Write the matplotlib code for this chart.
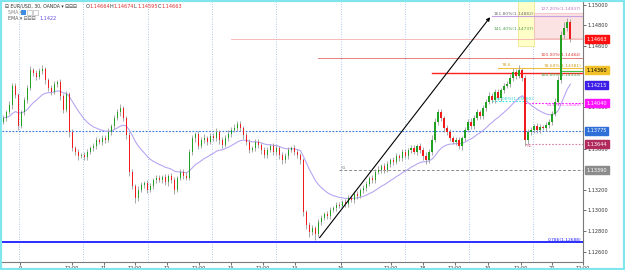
import matplotlib
matplotlib.use("Agg")
import matplotlib.pyplot as plt
import numpy as np
import pandas as pd
from matplotlib.patches import Rectangle

# ---------------- data (prices as points above 1.12000, 1 pt = 0.00001) ----------------
BASE = 1.12
close_pts = [1898,1956,2024,2208,2121,1820,1956,2072,2189,2364,
             2335,2296,2354,2374,2267,2189,2150,2228,2247,2111,
             1975,2131,1762,1606,1567,1528,1538,1519,1567,1606,
             1625,1684,1664,1703,1684,1762,1820,1898,1956,1995,
             1898,1732,1373,1237,1120,1198,1247,1266,1198,1237,
             1295,1315,1295,1324,1276,1334,1295,1198,1315,1373,
             1334,1315,1567,1703,1742,1625,1684,1703,1664,1723,
             1703,1762,1684,1635,1703,1742,1781,1800,1839,1800,
             1732,1664,1587,1606,1664,1635,1587,1538,1587,1625,
             1567,1606,1538,1489,1528,1587,1606,1567,1538,1489,
             984,858,790,829,770,887,926,965,945,1004,
             1023,1052,1043,1081,1062,1120,1101,1159,1140,1198,
             1217,1256,1315,1295,1373,1392,1431,1392,1451,1489,
             1470,1528,1509,1567,1528,1587,1606,1567,1625,1587,
             1528,1489,1567,1684,1859,1956,1898,1800,1762,1703,
             1664,1684,1625,1703,1781,1859,1820,1898,1956,1917,
             1995,2053,2111,2072,2150,2092,2170,2208,2228,2286,
             2344,2306,2364,2286,1684,1762,1781,1820,1781,1810,
             1800,1829,1859,1936,2053,2267,2704,2772,2830,2663]
first_open_pts = 1860
upper_wick = [30,20,40,25,30,20,15,30,25,35, 20,30,25,40,20,15,25,30,20,25,
              15,30,20,25,15,30,20,25,30,20, 25,30,20,25,30,35,20,25,30,40,
              20,15,25,30,20,35,25,20,30,25, 20,30,25,20,30,20,25,30,20,25,
              30,35,30,25,20,30,25,35,20,30, 25,40,20,25,30,35,30,40,30,25,
              20,30,25,20,30,25,20,30,25,20, 25,30,20,25,30,25,20,25,30,20,
              15,20,25,30,20,30,25,20,25,30, 20,25,30,20,25,30,20,25,30,20,
              25,30,20,25,30,35,20,25,30,20, 25,30,20,25,30,20,25,30,20,25,
              30,40,25,50,40,30,25,20,30,25, 20,30,25,20,30,25,35,30,25,20,
              30,25,35,30,25,30,20,25,30,35, 40,30,50,20,25,30,25,20,30,25,
              20,30,25,30,35,40,40,60,40,30]
lower_wick = [25,30,20,35,25,40,20,25,30,20, 30,25,20,25,35,30,25,20,30,40,
              25,20,45,30,25,35,20,30,25,20, 30,25,20,30,25,20,30,25,20,35,
              30,40,35,30,45,25,20,30,25,20, 30,25,20,30,25,35,30,40,20,25,
              30,25,20,30,40,25,20,30,25,20, 30,25,35,30,20,25,30,20,25,30,
              40,30,25,20,30,25,35,30,25,20, 30,25,35,40,30,25,20,30,25,35,
              40,35,45,30,60,30,25,20,30,25, 20,30,25,20,30,25,20,30,25,20,
              30,25,20,30,25,20,30,25,20,30, 25,20,30,25,20,30,25,20,30,25,
              35,40,30,25,20,30,25,35,30,25, 20,30,25,35,30,20,25,30,20,25,
              30,25,20,30,25,20,30,25,20,25, 30,25,20,30,60,40,30,25,30,25,
              20,25,30,25,20,30,30,25,30,30]

tick_pos = [5.5,22.8,33.5,43.8,54.5,65.2,75.8,86.5,97.2,112.5,129.2,139.8,150.5,161.5,172.5,182.8,193.2]
tick_lbl = ["9","12:00","11","12:00","12","12:00","13","12:00","14","16","12:00","18","12:00","19","12:00","20","12:00"]
day_sep = [5.2,26.5,48.2,69.5,90.8,112.5,133.8,155.2,176.5]

y_ticks = [1.150,1.148,1.146,1.140,1.136,1.132,1.130,1.128,1.126]
price_boxes = [(1.14663,"#ff1010","white"),(1.14360,"#f2c22a","black"),(1.14215,"#3c1ee6","white"),
               (1.14040,"#ff10ff","white"),(1.13775,"#2f6fd8","white"),(1.13644,"#b02a5c","white"),
               (1.13390,"#8c8c8c","white")]

ohlc_names = ["O", "H", "L", "C"]
ohlc_vals = ["1.14664", "1.14674", "1.14595", "1.14663"]
ema_value = "1.1422"

arrow_start = (104.8, 1.12712)
arrow_end = (162.8, 1.14898)

# ---------------- derived ----------------
closes = np.array([BASE + c/1e5 for c in close_pts])
opens = np.concatenate([[BASE + first_open_pts/1e5], closes[:-1]])
highs = np.maximum(opens, closes) + np.array(upper_wick)/1e5
lows = np.minimum(opens, closes) - np.array(lower_wick)/1e5
n = len(closes)
ema = pd.Series(closes).ewm(span=20, adjust=False).mean().values

fig = plt.figure(figsize=(6.25, 2.7), dpi=100)
fig.patch.set_facecolor("white")
ax = fig.add_axes([2/625, 8/270, 581/625, 262/270])
XMAX = 193.17
ax.set_xlim(-0.5, XMAX)
ax.set_ylim(1.12498, 1.15044)

for s in ["left", "top"]:
    ax.spines[s].set_visible(False)
for s in ["right", "bottom"]:
    ax.spines[s].set_color("#7a7a7a")
    ax.spines[s].set_linewidth(0.8)

# day separators
for d in day_sep:
    ax.axvline(d, color="#8fb8e8", lw=0.6, ls=(0, (1, 2)), zorder=1)

# overlay shapes
ax.add_patch(Rectangle((171.5, 1.14600), 5.5, 0.00460, facecolor="#ffffc8", edgecolor="#f0e080", lw=0.5, zorder=1))
ax.add_patch(Rectangle((177, 1.14675), XMAX-177, 0.00243, facecolor="#fbe3e3", edgecolor="#f0b8b8", lw=0.5, zorder=1))

def hline(y, x0, x1, color, lw=0.7, ls="-", z=2):
    ax.plot([x0, x1], [y, y], color=color, lw=lw, ls=ls, zorder=z)

hline(1.12688, -0.5, XMAX, "#1a1aff", lw=1.3)
hline(1.13775, -0.5, XMAX, "#2f6fd8", lw=0.8, ls=(0, (1.5, 1.5)))
hline(1.13390, 112, XMAX, "#8c8c8c", lw=0.7, ls=(0, (3, 2)))
hline(1.13644, 174, XMAX, "#d880a8", lw=0.8, ls=(0, (1.5, 1.5)))
hline(1.14040, 174, XMAX, "#ff10ff", lw=0.8, ls=(0, (1.5, 1.5)))
hline(1.14060, 163, 175, "#30e8e8", lw=0.8, ls=(0, (1.5, 1.5)))
hline(1.14484, 105, XMAX, "#e88080", lw=0.7)
hline(1.14381, 165, XMAX, "#f0c040", lw=0.8)
hline(1.14333, 143, XMAX, "#ff2020", lw=1.0)
hline(1.14350, 186, XMAX, "#40c040", lw=0.8)
hline(1.14663, 76, XMAX, "#f4b0b0", lw=0.6)
hline(1.14888, 163, XMAX, "#c8a0e0", lw=0.8)

fs = 3.2
ax.text(163.5, 1.14892, "161.80%(1.14882)", fontsize=fs, color="#707070", va="bottom", zorder=5)
ax.text(163.5, 1.14740, "141.40%(1.14737)", fontsize=fs, color="#50a050", va="bottom", zorder=5)
ax.text(XMAX-0.5, 1.14940, "127.20%(1.14937)", fontsize=fs, color="#c070c0", va="bottom", ha="right", zorder=5)
ax.text(XMAX-0.5, 1.14488, "100.00%(1.14484)", fontsize=fs, color="#e04040", va="bottom", ha="right", zorder=5)
ax.text(XMAX-0.5, 1.14385, "78.60%(1.14381)", fontsize=fs, color="#d0a020", va="bottom", ha="right", zorder=5)
ax.text(XMAX-0.5, 1.14300, "100.00%(1.14333)", fontsize=fs, color="#40a040", va="bottom", ha="right", zorder=5)
ax.text(166, 1.14390, "78.6", fontsize=fs, color="#d0a020", va="bottom", zorder=5)
ax.text(XMAX-0.5, 1.14000, "61.8%(1.14040)", fontsize=fs, color="#ff40ff", va="bottom", ha="right", zorder=5)
ax.text(164, 1.14064, "50.00%(1.14060)", fontsize=fs, color="#30d0d0", va="bottom", zorder=5)
ax.text(174.5, 1.13610, "NL", fontsize=fs, color="#d880a8", va="bottom", zorder=5)
ax.text(112.5, 1.13395, "S1", fontsize=fs, color="#8c8c8c", va="bottom", zorder=5)
ax.text(XMAX-0.5, 1.12695, "0.786(1.12688)", fontsize=fs, color="#1a1aff", va="bottom", ha="right", zorder=5)

# EMA
ax.plot(np.arange(n), ema, color="#b8a6f2", lw=0.8, zorder=3)

# candles
x = np.arange(n)
up = closes >= opens
ax.vlines(x, lows, highs, color="#9a9a9a", lw=0.6, zorder=4)
body_lo = np.minimum(opens, closes)
body_h = np.maximum(np.abs(closes - opens), 0.00003)
ax.bar(x[up], body_h[up], bottom=body_lo[up], width=0.62, color="#22a022", zorder=5, linewidth=0)
ax.bar(x[~up], body_h[~up], bottom=body_lo[~up], width=0.62, color="#ee1c1c", zorder=5, linewidth=0)

# arrow
ax.annotate("", xy=arrow_end, xytext=arrow_start,
            arrowprops=dict(arrowstyle="-|>", color="black", lw=0.8, mutation_scale=5), zorder=6)

# axes ticks
ax.yaxis.tick_right()
ax.set_yticks(y_ticks)
ax.set_yticklabels([f"{v:.5f}" for v in y_ticks], fontsize=3.6)
ax.tick_params(axis="y", length=2, width=0.5, pad=1, colors="#333333")
ax.set_xticks(tick_pos)
ax.set_xticklabels(tick_lbl, fontsize=3.6)
ax.tick_params(axis="x", length=2, width=0.5, pad=1, colors="#333333")

for p, fc, tc in price_boxes:
    ax.text(XMAX + 1.2, p, f"{p:.5f}", fontsize=3.6, color=tc, va="center", ha="left",
            bbox=dict(boxstyle="square,pad=0.3", facecolor=fc, edgecolor=fc), zorder=10, clip_on=False)

# legend text
Y1 = 1 - 6/270
fig.text(5/625, Y1, "⊟ EUR/USD, 30, OANDA ▾ ⊟⊟⊟", fontsize=3.3, color="#333333", va="center")
xs_name = [86, 110, 134, 158]
for xn, nm, vl in zip(xs_name, ohlc_names, ohlc_vals):
    fig.text(xn/625, Y1, nm, fontsize=3.6, color="#333333", va="center")
    fig.text((xn + 4)/625, Y1, vl, fontsize=3.6, color="#e03030", va="center")
fig.text(8/625, 1-12.5/270, "SMA ▾", fontsize=3.4, color="#888888", va="center")
fig.patches.append(Rectangle((21/625, 1-15/270), 5/625, 5/270, transform=fig.transFigure, facecolor="#3a8ee8", edgecolor="none"))
fig.patches.append(Rectangle((27/625, 1-15/270), 5/625, 5/270, transform=fig.transFigure, facecolor="none", edgecolor="#aaaaaa", lw=0.4))
fig.patches.append(Rectangle((33/625, 1-15/270), 5/625, 5/270, transform=fig.transFigure, facecolor="none", edgecolor="#aaaaaa", lw=0.4))
fig.text(8/625, 1-19/270, "EMA ▾ ⊟⊟⊟", fontsize=3.4, color="#555555", va="center")
fig.text(40/625, 1-19/270, ema_value, fontsize=3.6, color="#6a4ee0", va="center")

# cyan frame
fig.patches.append(Rectangle((0, 0), 1, 1, transform=fig.transFigure, fill=False, edgecolor="#7fe6ee", lw=3))

fig.savefig("out.png", dpi=100)
